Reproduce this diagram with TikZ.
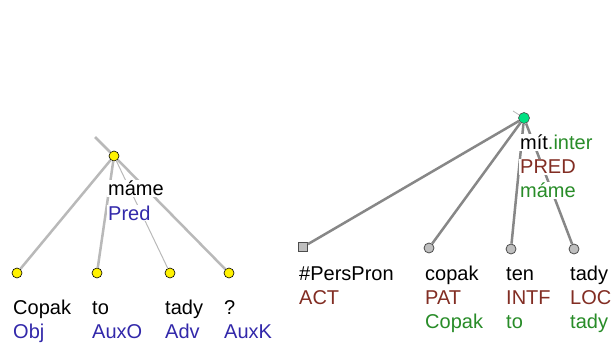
\documentclass[tikz,border=0pt]{standalone}
\usepackage{fontspec}
\setmainfont{Liberation Sans}
\usetikzlibrary{positioning,shapes}

\definecolor{afunblue}{RGB}{50,40,170}
\definecolor{fuctbrown}{RGB}{130,45,35}
\definecolor{tlemgreen}{RGB}{40,140,40}
\definecolor{aedgegray}{RGB}{185,185,185}
\definecolor{tedgegray}{RGB}{135,135,135}
\definecolor{troot}{RGB}{0,225,130}

\begin{document}
\begin{tikzpicture}[
  x=1pt, y=-1pt,
  font=\fontsize{20}{24}\selectfont,
  anode/.style={circle, draw=black, fill=yellow, inner sep=0pt, minimum size=10pt, line width=0.6pt},
  tnode/.style={circle, draw=black!70, fill=black!25, inner sep=0pt, minimum size=10pt, line width=0.8pt},
  tgen/.style={rectangle, draw=black!70, fill=black!25, inner sep=0pt, minimum size=9pt, line width=0.8pt},
  tmain/.style={circle, draw=black!70, fill=troot, inner sep=0pt, minimum size=11pt, line width=0.6pt},
  aedge/.style={draw=aedgegray, line width=2.5pt},
  tedge/.style={draw=tedgegray, line width=2.5pt},
  lbl/.style={anchor=base west, fill=white, inner sep=1pt}]

\useasboundingbox (0,0) rectangle (612,347);

% analytical tree
\node[anode] (ma) at (114,156) {};
\coordinate (atop) at (95,137);
\foreach \x [count=\i] in {17,97,170,229} {
  \node[anode] (a\i) at (\x,273) {};
}

\draw [aedge] (atop) -- (ma);
\draw [aedge] (ma) -- (a1);
\draw [aedge] (ma) -- (a2);
\draw [draw=aedgegray, line width=1pt] (ma) -- (a3);
\draw [aedge] (ma) -- (a4);

\node[lbl] (mform) at (107,196) {máme};
\node[lbl, text=afunblue] (mafun) at (107,220) {Pred};
\foreach \x/\w/\f [count=\i] in {12/Copak/Obj, 91/to/AuxO, 164/tady/Adv, 223/?/AuxK} {
  \node[lbl] (w\i) at (\x,314) {\w};
  \node[lbl, text=afunblue] (f\i) at (\x,338) {\f};
}

% tectogrammatical tree
\node[tmain] (mit) at (524,118) {};
\coordinate (ttop) at (513,111);
\node[tgen] (t1) at (303,247) {};
\node[tnode] (t2) at (429,248) {};
\node[tnode] (t3) at (511,249) {};
\node[tnode] (t4) at (574,249) {};

\draw [draw=tedgegray!60, line width=0.8pt] (ttop) -- (mit);
\draw [tedge] (mit) -- (t1);
\draw [tedge] (mit) -- (t2);
\draw [tedge] (mit) -- (t3);
\draw [tedge] (mit) -- (t4);

\node[lbl] (tlem) at (519,150) {mít\textcolor{tlemgreen}{.inter}};
\node[lbl, text=fuctbrown] (tfun) at (519,174) {PRED};
\node[lbl, text=tlemgreen] (tform) at (519,198) {máme};

\node[lbl] (l1) at (298,280) {\#PersPron};
\node[lbl, text=fuctbrown] (r1) at (298,304) {ACT};
\foreach \x/\l/\r/\s [count=\i from 2] in {424/copak/PAT/Copak, 505/ten/INTF/to, 569/tady/LOC/tady} {
  \node[lbl] (l\i) at (\x,280) {\l};
  \node[lbl, text=fuctbrown] (r\i) at (\x,304) {\r};
  \node[lbl, text=tlemgreen] (s\i) at (\x,328) {\s};
}

\end{tikzpicture}
\end{document}
